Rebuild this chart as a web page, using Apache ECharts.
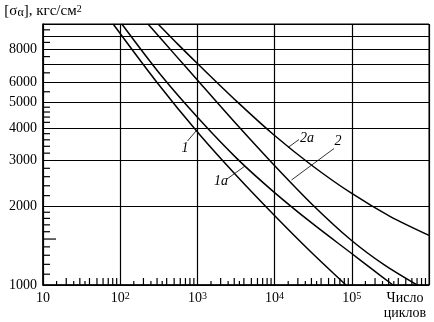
<!DOCTYPE html>
<html><head><meta charset="utf-8">
<script src="https://cdn.jsdelivr.net/npm/echarts@6/dist/echarts.min.js"></script>
<style>html,body{margin:0;padding:0;background:#fff}#c{width:434px;height:322px}</style>
</head><body><div id="c"></div>
<script>
// ---- data ----
const curve1  = [[81,10000],[300,5970],[1080,3755],[3260,2610],[9820,1855],[28700,1350],[84000,1000]];
const curve1a = [[105,10000],[338,6360],[1080,4285],[3260,3050],[9820,2270],[30500,1725],[97700,1326],[183000,1150],[342000,1000]];
const curve2  = [[229,10000],[498,7700],[1080,5940],[3260,4110],[9820,2883],[30500,2040],[97700,1487],[261000,1196],[700000,1000]];
const curve2a = [[309,10000],[578,8280],[1080,6900],[3260,5040],[9820,3755],[30500,2870],[97700,2252],[312000,1833],[1000000,1550]];
const curveNames = ['1','1a','2','2a'];

const xDecades = [10,100,1000,10000,100000];
const xLabelExp = {10:'', 100:'2', 1000:'3', 10000:'4', 100000:'5'};
const xMinorLong = [2,3,4,5,6,7,8,9];
const xMinorShort = [1.5,2.5,3.5];

const yLabels = [1000,2000,3000,4000,5000,6000,8000];
const yGrid = [1000,2000,3000,4000,5000,6000,7000,8000,9000,10000];
const yMinor = [1100,1200,1300,1400,1600,1700,1800,1900,2200,2400,2600,2800,3200,3400,3600,3800,4200,4400,4600,4800,5500,6500,7500,8500,9500];
const yMinorLong = [1500];

const X_MIN = 10, X_MAX = 1000000, Y_MIN = 1000, Y_MAX = 10000;

const FONT = '"Liberation Serif", "DejaVu Serif", serif';
const chart = echarts.init(document.getElementById('c'), null, {renderer:'canvas'});

const xLong = [], xShort = [];
xDecades.forEach(d => {
  xMinorLong.forEach(m => xLong.push(d*m));
  xMinorShort.forEach(m => xShort.push(d*m));
});

// one custom item that draws every minor tick through the axis scales
const tickSeries = {
  type:'custom', silent:true, clip:false, z:5, data:[[X_MIN, Y_MIN]], encode:{x:0, y:1},
  renderItem:function(params, api){
    const children = [];
    const add = (x1,y1,x2,y2) => children.push({type:'line', shape:{x1:x1,y1:y1,x2:x2,y2:y2}, style:{stroke:'#000', lineWidth:1.2}});
    xLong.forEach(v => { const p = api.coord([v, Y_MIN]); add(p[0], p[1], p[0], p[1]-7); });
    xShort.forEach(v => { const p = api.coord([v, Y_MIN]); add(p[0], p[1], p[0], p[1]-4); });
    yMinor.forEach(v => { const p = api.coord([X_MIN, v]); add(p[0], p[1], p[0]+7, p[1]); });
    yMinorLong.forEach(v => { const p = api.coord([X_MIN, v]); add(p[0], p[1], p[0]+13, p[1]); });
    return {type:'group', children:children};
  }
};

const seriesData = [curve1, curve1a, curve2, curve2a];
const lineSeries = seriesData.map((d,i) => ({
  type:'line', name:curveNames[i], data:d,
  showSymbol:false, smooth:0.3, silent:true,
  lineStyle:{color:'#000', width:1.5}
}));

chart.setOption({
  animation:false,
  backgroundColor:'#fff',
  grid:{left:43, right:5, top:24, bottom:37, show:true, borderColor:'#000', borderWidth:1, outerBoundsMode:'none'},
  xAxis:{type:'log', logBase:10, min:X_MIN, max:X_MAX, position:'bottom',
     axisLine:{show:true, lineStyle:{color:'#000', width:1.5}},
     axisTick:{show:false},
     splitLine:{show:true, lineStyle:{color:'#000', width:1.2}},
     axisLabel:{show:true, margin:6, color:'#000', fontFamily:FONT, fontSize:14,
       formatter:function(v){
         const key = Math.round(v);
         if (!(key in xLabelExp)) return '';
         const e = xLabelExp[key];
         return e ? '10{s|' + e + '}' : '10';
       },
       rich:{s:{fontSize:10, fontFamily:FONT, color:'#000', verticalAlign:'top', lineHeight:10}}
     }},
  yAxis:{type:'log', logBase:10, min:Y_MIN, max:Y_MAX, position:'left',
     name:'[σ{sub|α}], кгс/см{sup|2}', nameLocation:'end', nameGap:5,
     nameTextStyle:{color:'#000', fontFamily:FONT, fontSize:15, align:'center',
       rich:{sub:{fontSize:12, fontFamily:FONT, color:'#000', verticalAlign:'bottom', lineHeight:10},
             sup:{fontSize:10, fontFamily:FONT, color:'#000', verticalAlign:'top', lineHeight:10}}},
     axisLine:{show:true, lineStyle:{color:'#000', width:1.5}},
     axisTick:{show:false, customValues:yGrid},
     splitLine:{show:true, lineStyle:{color:'#000', width:1.2}},
     axisLabel:{show:true, margin:6, color:'#000', fontFamily:FONT, fontSize:14, customValues:yLabels,
       formatter:function(v){ return String(Math.round(v)); }}},
  series: lineSeries.concat([tickSeries]),
  graphic:[
    {type:'text', x:405, y:298, style:{text:'Число', font:'14px '+FONT, fill:'#000', textAlign:'center', textVerticalAlign:'middle'}},
    {type:'text', x:405, y:313, style:{text:'циклов', font:'14px '+FONT, fill:'#000', textAlign:'center', textVerticalAlign:'middle'}},
    {type:'text', x:185, y:148, style:{text:'1', font:'italic 14px '+FONT, fill:'#000', textAlign:'center', textVerticalAlign:'middle'}},
    {type:'line', shape:{x1:187.5, y1:141, x2:196, y2:131}, style:{stroke:'#000', lineWidth:0.8}},
    {type:'text', x:221, y:181, style:{text:'1a', font:'italic 14px '+FONT, fill:'#000', textAlign:'center', textVerticalAlign:'middle'}},
    {type:'line', shape:{x1:227, y1:179, x2:245, y2:166}, style:{stroke:'#000', lineWidth:0.8}},
    {type:'text', x:307, y:138, style:{text:'2a', font:'italic 14px '+FONT, fill:'#000', textAlign:'center', textVerticalAlign:'middle'}},
    {type:'line', shape:{x1:288, y1:147.5, x2:299, y2:139.5}, style:{stroke:'#000', lineWidth:0.8}},
    {type:'text', x:338, y:141, style:{text:'2', font:'italic 14px '+FONT, fill:'#000', textAlign:'center', textVerticalAlign:'middle'}},
    {type:'line', shape:{x1:334, y1:148.5, x2:291.5, y2:180}, style:{stroke:'#000', lineWidth:0.8}}
  ]
});
</script></body></html>
